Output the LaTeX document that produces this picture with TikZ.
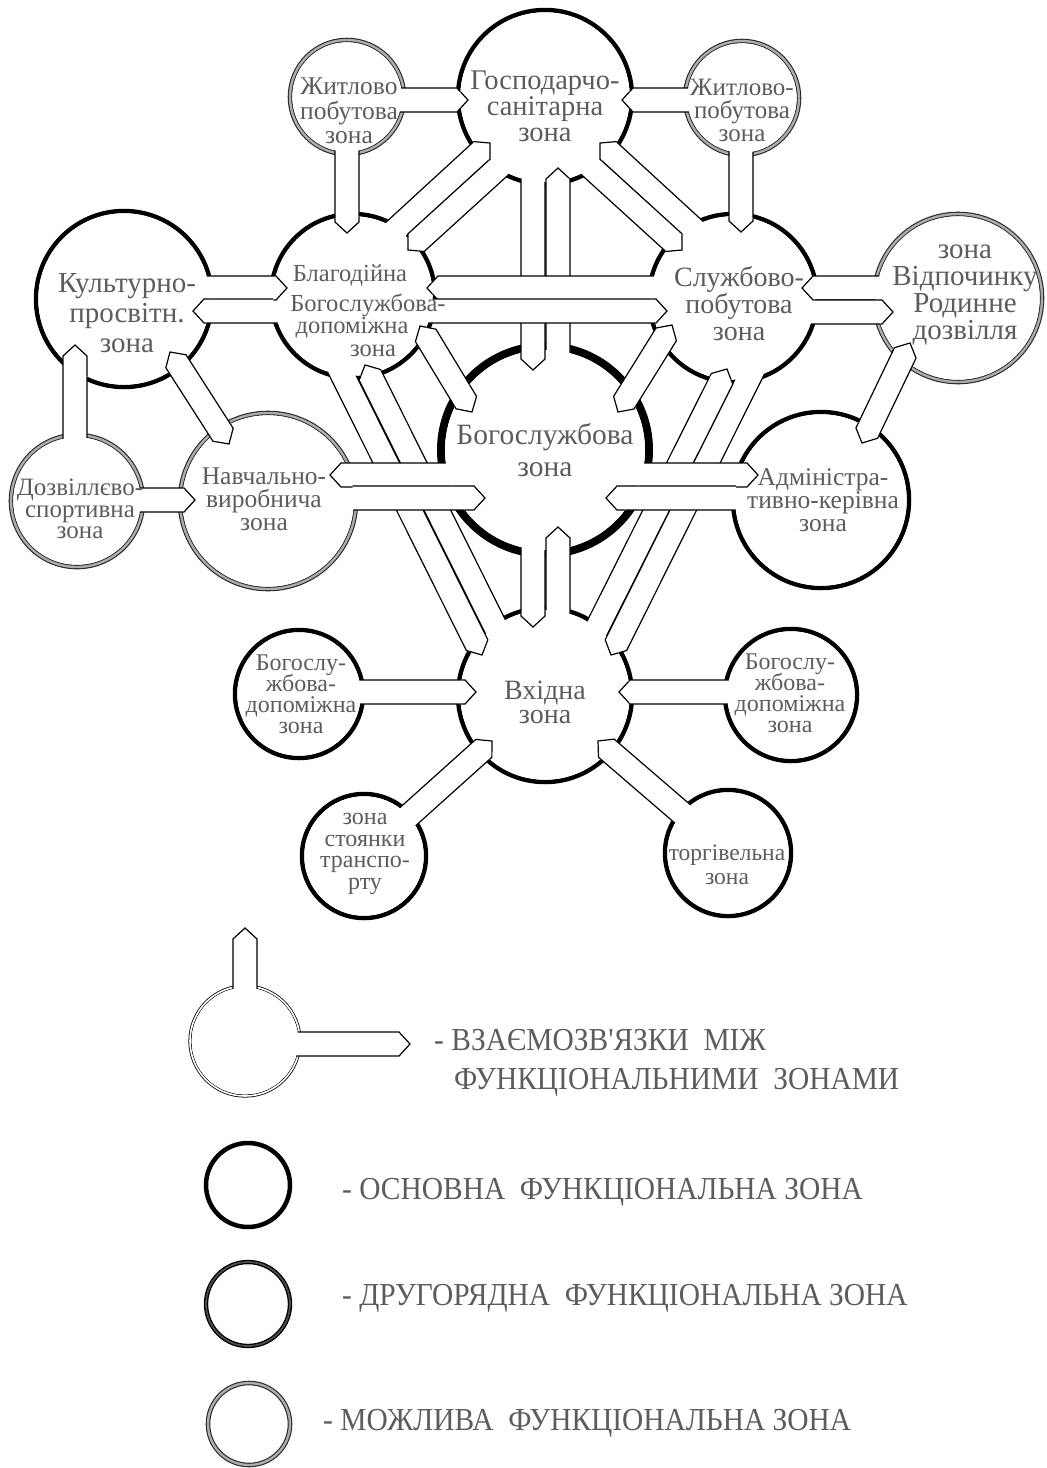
\documentclass[tikz,border=0pt]{standalone}
\usepackage{fontspec}
\setmainfont{Liberation Serif}
\usepackage{graphicx}
\usetikzlibrary{calc}
\lineskiplimit=-1000pt
\newif\ifrestoring
\newcommand\fs[2]{\fontsize{#1}{#2}\selectfont}
\newcommand\cond[1]{\scalebox{0.92}[1]{#1}}
\newcommand\zone[6]{%
  \pgfmathsetmacro\zd{2*#4}%
  \node[#5, minimum size=\zd pt] (#1) at (#2,#3) {};%
  \expandafter\def\csname zi@#1\endcsname{#4-#6}}
\newcommand\hidezone[1]{\fill[white] (#1) circle [radius={(\csname zi@#1\endcsname)*1pt}];}
\newcommand\clipzone[1]{\clip (#1) circle [radius={(\csname zi@#1\endcsname)*1pt}];}
\newcommand\bandpoly[2]{\filldraw[bandst] ($#1!12pt!90:#2$) -- ($#2!11pt!#1!12pt!-90:#1$) -- #2 -- ($#2!11pt!#1!12pt!90:#1$) -- ($#1!12pt!-90:#2$) -- cycle;}
\newcommand\dbandpoly[2]{\filldraw[bandst] #1 -- ($#1!11pt!#2!12pt!90:#2$) -- ($#2!11pt!#1!12pt!-90:#1$) -- #2 -- ($#2!11pt!#1!12pt!90:#1$) -- ($#1!11pt!#2!12pt!-90:#2$) -- cycle;}
\newcommand\band[4]{%
  \coordinate (bt) at ($(#1)+(#3)$);
  \coordinate (ba) at ($(#2)+(#4)$);
  \ifrestoring\begin{scope}\clipzone{#2}\bandpoly{(bt)}{(ba)}\end{scope}\else\bandpoly{(bt)}{(ba)}\fi}
\newcommand\dband[4]{%
  \coordinate (bt) at ($(#1)+(#3)$);
  \coordinate (ba) at ($(#2)+(#4)$);
  \ifrestoring
    \begin{scope}\clipzone{#1}\dbandpoly{(bt)}{(ba)}\end{scope}%
    \begin{scope}\clipzone{#2}\dbandpoly{(bt)}{(ba)}\end{scope}%
  \else\dbandpoly{(bt)}{(ba)}\fi}
\newcommand\allbands{%
  \band{G}{C}{-12,13}{-12,-80}
  \band{C}{G}{13,-20}{13,71}
  \band{B}{G}{27,-52}{-55,46}
  \band{G}{B}{-26,52}{55,-46}
  \band{S}{G}{-23,-54}{55,46}
  \band{G}{S}{26,52}{-51,-48}
  \dband{B}{C}{67,30}{-73,-38}
  \dband{S}{C}{-61,27}{73,-38}
  \dband{K}{N}{46,53}{-39,-57}
  \dband{V}{A}{-48,45}{41,-57}
  \band{B}{E}{-22,56}{-63,-40}
  \band{E}{B}{-31,-31}{12,69}
  \band{S}{E}{29,54}{66,-40}
  \band{E}{S}{34,-31}{-6,71}
  \band{ZL}{G}{13,3}{-77,3}
  \band{ZR}{G}{-12,2}{77,3}
  \band{ZL}{B}{0,13}{-6,-63}
  \band{ZR}{S}{-1,12}{8,-66}
  \band{K}{B}{16,-11}{-66,-8}
  \band{B}{K}{-13,15}{69,12}
  \band{S}{B}{-13,-10}{74,-8}
  \band{B}{S}{17,15}{-66,13}
  \band{V}{S}{-13,-10}{69,-10}
  \band{S}{V}{12,14}{-65,14}
  \band{C}{E}{-12,20}{-12,-68}
  \band{E}{C}{13,-15}{13,77}
  \band{D}{K}{-2,-11}{-49,46}
  \band{D}{N}{13,-1}{-73,-1}
  \band{C}{N}{-15,25}{62,-26}
  \band{N}{C}{12,-3}{-60,48}
  \band{C}{A}{15,25}{-63,-25}
  \band{A}{C}{-11,-2}{61,48}
  \band{BL}{E}{11,-2}{-69,-3}
  \band{BR}{E}{-11,-3}{74,-3}
  \band{P}{E}{0,0}{-53,46}
  \band{T}{E}{0,0}{53,46}
}
\begin{document}
\begin{tikzpicture}[x=1pt,y=-1pt,
  zone/.style={circle, inner sep=0pt, outer sep=0pt, fill=white},
  mainzone/.style={zone, draw=black, line width=4.5pt},
  corezone/.style={zone, draw=black, line width=8pt},
  seczone/.style={zone, draw=black, line width=1.3pt, double=black!70, double distance=1.8pt},
  posszone/.style={zone, draw=black!85, line width=1.1pt, double=gray!65, double distance=2.4pt},
  linkzone/.style={zone, draw=black, line width=0.8pt, double=white, double distance=1.6pt},
  bandst/.style={fill=white, draw=black, line width=1.2pt, line join=miter},
  lbl/.style={text=black!64, align=center, inner sep=0pt},
  legtxt/.style={text=black!64, inner sep=0pt, anchor=west, font=\fs{32}{32}}]
\fill[white] (0,0) rectangle (1047,1468);
\useasboundingbox (0,0) rectangle (1047,1468);
% zones
\zone{G}{545}{97}{87}{mainzone}{2.25}
\zone{ZL}{347}{97}{57}{posszone}{2.3}
\zone{ZR}{742}{98}{57}{posszone}{2.3}
\zone{B}{353}{296}{82}{mainzone}{2.25}
\zone{K}{124}{299}{88}{mainzone}{2.25}
\zone{S}{733}{298}{84}{mainzone}{2.25}
\zone{V}{958}{298}{84}{posszone}{2.3}
\zone{C}{545}{450}{104}{corezone}{4}
\zone{N}{268}{501}{88}{posszone}{2.3}
\zone{D}{77}{501}{66}{posszone}{2.3}
\zone{A}{821}{500}{88}{mainzone}{2.25}
\zone{E}{545}{695}{87}{mainzone}{2.25}
\zone{BL}{299}{694}{64}{mainzone}{2.25}
\zone{BR}{791}{695}{66}{mainzone}{2.25}
\zone{P}{364}{856}{62}{mainzone}{2.25}
\zone{T}{728}{853}{63}{mainzone}{2.25}
% connectors
\allbands
\foreach \z in {G,ZL,ZR,B,K,S,V,C,N,D,A,E,BL,BR,P,T}{\hidezone{\z}}
\restoringtrue
\allbands
\restoringfalse
% legend
\zone{LG1}{245}{1041}{55}{linkzone}{1.6}
\coordinate (LGup) at (245,928);
\coordinate (LGright) at (410,1044);
\coordinate (LGt) at ($(LG1)+(0,3)$);
\bandpoly{(LG1)}{(LGup)}
\bandpoly{(LGt)}{(LGright)}
\hidezone{LG1}
\zone{LG2}{248}{1185}{42}{mainzone}{2.25}
\zone{LG3}{248}{1304}{42}{seczone}{2.2}
\zone{LG4}{249}{1424}{41}{posszone}{2.3}
% labels
\node[lbl, font=\fs{28.5}{26}] (Gt) at (545,106) {Господарчо-\\санітарна\\зона};
\node[lbl, font=\fs{25.5}{24.5}] (ZLt) at (349,111) {Житлово\\побутова\\зона};
\node[lbl, font=\fs{25}{23}] (ZRt) at (742,110) {Житлово-\\побутова\\зона};
\node[lbl, font=\fs{29}{30}] (Kt) at (127,313) {Культурно-\\просвітн.\\зона};
\node[lbl, font=\fs{24.5}{25}] (Bt1) at (350,275) {Благодійна};
\node[lbl, font=\fs{24.5}{25}] (Bt2) at (368,305) {Богослужбова-};
\node[lbl, font=\fs{24.5}{25}] (Bt3) at (352,328) {допоміжна};
\node[lbl, font=\fs{24.5}{25}] (Bt4) at (373,351) {зона};
\node[lbl, font=\fs{28}{27}] (St) at (739,304) {Службово-\\побутова\\зона};
\node[lbl, font=\fs{29}{27}] (Vt) at (965,295) {зона\\Відпочинку\\Родинне\\дозвілля};
\node[lbl, font=\fs{29.5}{32}] (Ct) at (545,450) {Богослужбова\\зона};
\node[lbl, font=\fs{25.5}{23}] (Nt) at (264,499) {Навчально-\\виробнича\\зона};
\node[lbl, font=\fs{25}{21.5}] (Dt) at (80,509) {Дозвіллєво-\\спортивна\\зона};
\node[lbl, font=\fs{25.5}{23}] (At) at (823,500) {Адміністра-\\тивно-керівна\\зона};
\node[lbl, font=\fs{28}{24}] (Et) at (545,702) {Вхідна\\зона};
\node[lbl, font=\fs{24}{21}] (BLt) at (301,694) {Богослу-\\жбова-\\допоміжна\\зона};
\node[lbl, font=\fs{24}{21}] (BRt) at (790,693) {Богослу-\\жбова-\\допоміжна\\зона};
\node[lbl, font=\fs{24}{21.5}] (Pt) at (365,854) {зона\\стоянки\\транспо-\\рту};
\node[lbl, font=\fs{23.5}{24}] (Tt) at (727,865) {торгівельна\\зона};
% legend texts
\node[legtxt] (LT1) at (434,1040) {\cond{- ВЗАЄМОЗВ\textquotesingle ЯЗКИ~~МІЖ}};
\node[legtxt] (LT2) at (454,1082) {\cond{ФУНКЦІОНАЛЬНИМИ~~ЗОНАМИ}};
\node[legtxt] (LT3) at (342,1192) {\cond{- ОСНОВНА~~ФУНКЦІОНАЛЬНА ЗОНА}};
\node[legtxt] (LT4) at (342,1298) {\cond{- ДРУГОРЯДНА~~ФУНКЦІОНАЛЬНА ЗОНА}};
\node[legtxt] (LT5) at (323,1423) {\cond{- МОЖЛИВА~~ФУНКЦІОНАЛЬНА ЗОНА}};
\end{tikzpicture}
\end{document}
